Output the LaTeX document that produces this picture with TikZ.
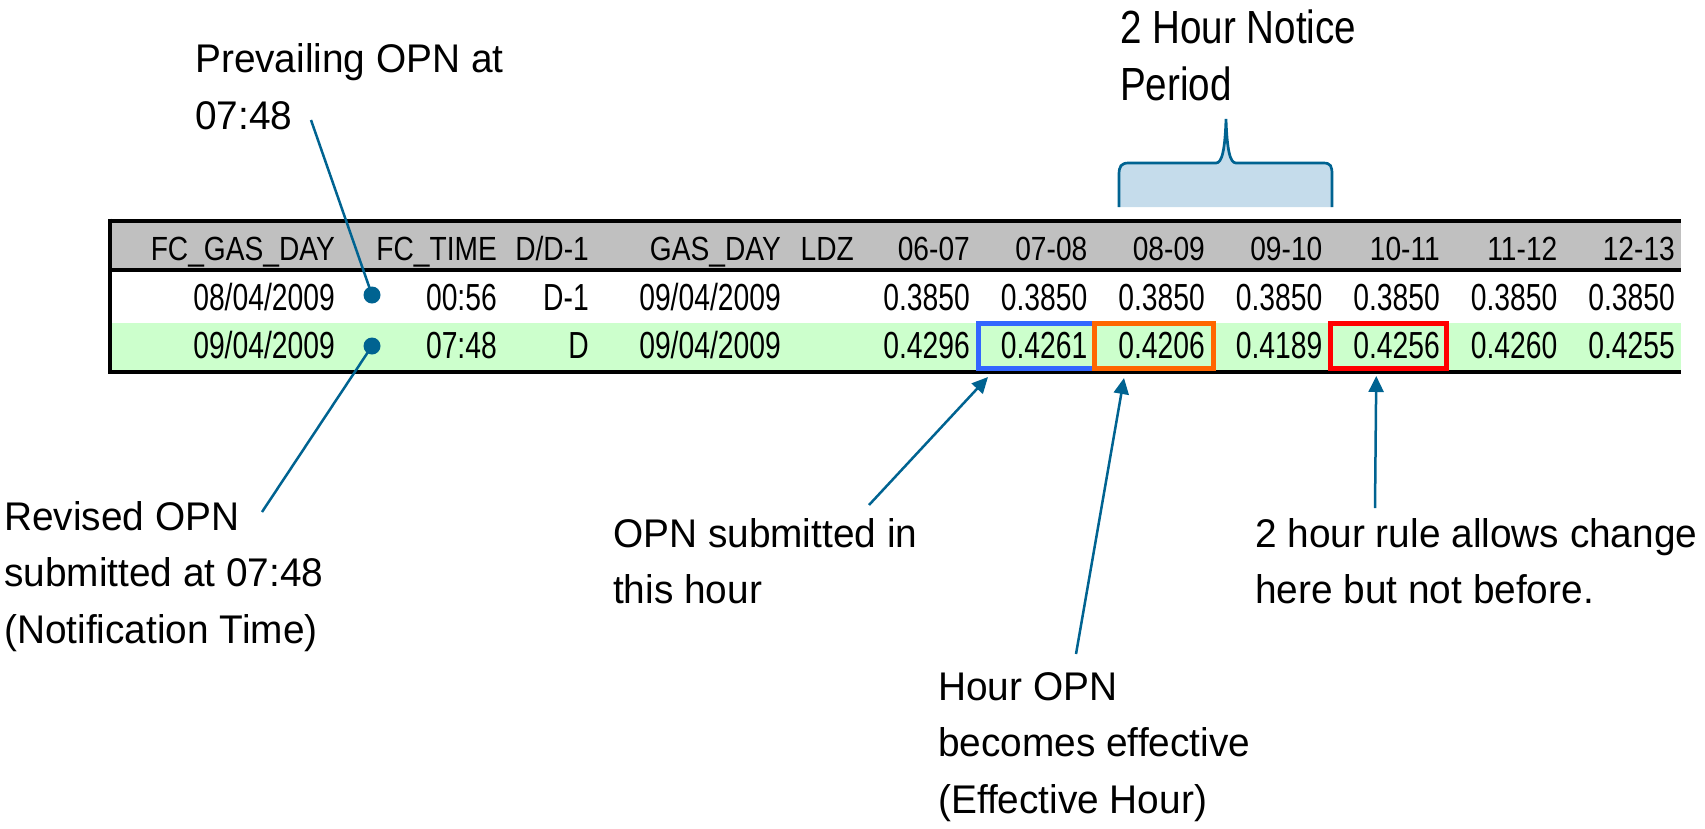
\documentclass[tikz,border=0pt]{standalone}
\usepackage{fontspec}
\setmainfont{Liberation Sans}
\newfontfamily\annfont[FakeStretch=0.97]{Liberation Sans}
\newfontfamily\bigfont[FakeStretch=0.83]{Liberation Sans}
\newfontfamily\hdrfont[FakeStretch=0.84]{Liberation Sans}
\newfontfamily\datfont[FakeStretch=0.75]{Liberation Sans}
\usetikzlibrary{arrows.meta}
\definecolor{teal1}{RGB}{0,99,145}
\definecolor{bracefill}{RGB}{197,220,235}
\definecolor{hdrgray}{RGB}{192,192,192}
\definecolor{rowgreen}{RGB}{204,255,204}
\definecolor{boxblue}{RGB}{51,102,255}
\definecolor{boxorange}{RGB}{255,102,0}
\definecolor{boxred}{RGB}{255,0,0}
\begin{document}
\begin{tikzpicture}[x=1pt,y=-1pt,
  ann/.style={anchor=base west, inner sep=0pt, align=left, font=\annfont\fontsize{40}{56.5}\selectfont},
  bigann/.style={anchor=base west, inner sep=0pt, align=left, font=\bigfont\fontsize{46.5}{57}\selectfont},
  hdr/.style={anchor=base east, inner sep=0pt, font=\hdrfont\fontsize{33.5}{40}\selectfont},
  dat/.style={anchor=base east, inner sep=0pt, font=\datfont\fontsize{37.7}{44}\selectfont},
  tablerule/.style={line width=4pt, black},
  leader/.style={draw=teal1, line width=2.5pt},
  pointer/.style={draw=teal1, line width=2.5pt, -{Triangle[length=16pt,width=15pt]}},
  dot/.style={circle, fill=teal1, inner sep=0pt, minimum size=17pt},
  hlbox/.style={draw=#1, line width=5pt, inner sep=0pt, minimum height=45pt},
]
\useasboundingbox (0,0) rectangle (1705,828);

% table backgrounds
\fill[hdrgray] (110,220) rectangle (1681,270);
\fill[rowgreen] (110,323) rectangle (1681,372);
\draw[tablerule] (108,220.5) -- (1681,220.5);
\draw[tablerule] (108,270) -- (1681,270);
\draw[tablerule] (108,372) -- (1681,372);
\draw[tablerule] (110,218.5) -- (110,374);

% header row
\foreach \x/\t [count=\i] in {335/{FC\_GAS\_DAY}, 497/{FC\_TIME}, 589/{D/D-1}, 781/{GAS\_DAY}, 854/{LDZ},
  970/{06-07}, 1087.5/{07-08}, 1205/{08-09}, 1322.5/{09-10}, 1440/{10-11}, 1557.5/{11-12}, 1675/{12-13}}
  \node[hdr] (h\i) at (\x,260) {\t};
% row 1
\foreach \x/\t [count=\i] in {335/{08/04/2009}, 497/{00:56}, 589/{D-1}, 781/{09/04/2009}}
  \node[dat] (a\i) at (\x,310) {\t};
\foreach \x/\t [count=\i] in {970/0.3850, 1087.5/0.3850, 1205/0.3850, 1322.5/0.3850, 1440/0.3850, 1557.5/0.3850, 1675/0.3850}
  \node[dat] (av\i) at (\x,310) {\t};
% row 2
\foreach \x/\t [count=\i] in {335/{09/04/2009}, 497/{07:48}, 589/{D}, 781/{09/04/2009}}
  \node[dat] (b\i) at (\x,358) {\t};
\foreach \x/\t [count=\i] in {970/0.4296, 1087.5/0.4261, 1205/0.4206, 1322.5/0.4189, 1440/0.4256, 1557.5/0.4260, 1675/0.4255}
  \node[dat] (bv\i) at (\x,358) {\t};

% highlight boxes
\node[hlbox=boxblue, minimum width=116.5pt] (bluebox) at (1036.25,346) {};
\node[hlbox=boxorange, minimum width=119pt] (orangebox) at (1154,346) {};
\node[hlbox=boxred, minimum width=116.5pt] (redbox) at (1388.25,346) {};

% brace
\fill[bracefill] (1119,207) -- (1119,175) .. controls (1119,166) and (1121,163) .. (1129,163)
  -- (1216,163) .. controls (1222,163) and (1225,150) .. (1226,119)
  .. controls (1227,150) and (1230,163) .. (1236,163) -- (1323,163)
  .. controls (1331,163) and (1332,166) .. (1332,175) -- (1332,207) -- cycle;
\draw[teal1, line width=2.7pt] (1119,207) -- (1119,175) .. controls (1119,166) and (1121,163) .. (1129,163)
  -- (1216,163) .. controls (1222,163) and (1225,150) .. (1226,119)
  .. controls (1227,150) and (1230,163) .. (1236,163) -- (1323,163)
  .. controls (1331,163) and (1332,166) .. (1332,175) -- (1332,207);

% annotations (anchored at the baseline of their last line)
\node[bigann] (notice) at (1120,100) {2 Hour Notice\\Period};
\node[ann] (prevailing) at (195,129) {Prevailing OPN at\\07:48};
\node[ann] (revised) at (4,643) {Revised OPN\\submitted at 07:48\\(Notification Time)};
\node[ann] (submitted) at (613,603.5) {OPN submitted in\\this hour};
\node[ann] (effective) at (938,813) {Hour OPN\\becomes effective\\(Effective Hour)};
\node[ann] (rule) at (1255,603.5) {2 hour rule allows change\\here but not before.};

% dots and leader lines
\node[dot] (dot1) at (372,295) {};
\node[dot] (dot2) at (372,346) {};
\coordinate (prevEnd) at (311,120);
\coordinate (revEnd) at (262,512);
\draw[leader] (prevEnd) -- (dot1.center);
\draw[leader] (revEnd) -- (dot2.center);

% pointers
\coordinate (subStart) at (869,505);
\coordinate (effStart) at (1076,654);
\coordinate (ruleStart) at (1375,508);
\draw[pointer] (subStart) -- ([shift={(12.5,6)}]bluebox.south west);
\draw[pointer] (effStart) -- ([shift={(-30,7)}]orangebox.south);
\draw[pointer] (ruleStart) -- ([shift={(-12,5)}]redbox.south);
\end{tikzpicture}
\end{document}
